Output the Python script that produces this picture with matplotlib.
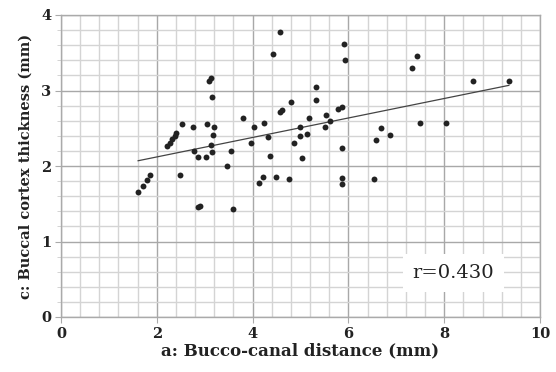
import matplotlib
matplotlib.use("Agg")
import matplotlib.pyplot as plt
import numpy as np

# Data
x_vals = [1.61, 1.71, 1.79, 1.86, 2.22, 2.28, 2.32, 2.37, 2.41, 2.48,
          2.52, 2.75, 2.78, 2.86, 2.85, 2.91, 3.03, 3.05, 3.10, 3.13,
          3.15, 3.14, 3.16, 3.17, 3.19, 3.47, 3.54, 3.59, 3.79, 3.97,
          4.02, 4.13, 4.21, 4.23, 4.32, 4.36, 4.42, 4.48, 4.57, 4.57,
          4.62, 4.75, 4.81, 4.86, 4.99, 4.98, 5.03, 5.14, 5.18, 5.33,
          5.33, 5.51, 5.54, 5.62, 5.79, 5.87, 5.86, 5.86, 5.86, 5.91,
          5.92, 6.54, 6.58, 6.68, 6.87, 7.33, 7.44, 7.49, 8.04, 8.60,
          9.35]
y_vals = [1.65, 1.74, 1.82, 1.88, 2.26, 2.31, 2.36, 2.40, 2.44, 1.88,
          2.56, 2.52, 2.20, 2.12, 1.46, 1.47, 2.12, 2.55, 3.12, 3.16,
          2.91, 2.28, 2.19, 2.41, 2.52, 2.00, 2.20, 1.43, 2.63, 2.30,
          2.51, 1.77, 1.85, 2.57, 2.38, 2.13, 3.48, 1.86, 3.77, 2.71,
          2.74, 1.83, 2.85, 2.30, 2.40, 2.52, 2.10, 2.42, 2.63, 3.04,
          2.88, 2.51, 2.68, 2.60, 2.75, 2.78, 2.24, 1.84, 1.76, 3.62,
          3.41, 1.83, 2.34, 2.50, 2.41, 3.30, 3.46, 2.57, 2.57, 3.12,
          3.13]
fit_slope = 0.129
fit_intercept = 1.862
r_text = "r=0.430"
x_label = "a: Bucco-canal distance (mm)"
y_label = "c: Buccal cortex thickness (mm)"
x_ticks = [0, 2, 4, 6, 8, 10]
y_ticks = [0, 1, 2, 3, 4]

plt.rcParams['font.family'] = ['DejaVu Serif']

fig = plt.figure(figsize=(5.56, 3.72), dpi=100)
ax = fig.add_axes([61/556, 55/372, (540-61)/556, (317-15)/372])

ax.set_xlim(0, 10)
ax.set_ylim(0, 4)
ax.set_xticks(x_ticks)
ax.set_yticks(y_ticks)
ax.set_xticks(np.arange(0, 10.01, 0.4), minor=True)
ax.set_yticks(np.arange(0, 4.01, 0.2), minor=True)
ax.grid(True, which='minor', color='#d4d4d4', linewidth=1.0)
ax.grid(True, which='major', color='#a8a8a8', linewidth=1.0)
ax.set_axisbelow(True)
for s in ax.spines.values():
    s.set_color('#aaaaaa')
    s.set_linewidth(1.0)
ax.tick_params(which='major', length=4, color='#aaaaaa', labelsize=10.5, pad=3)
ax.tick_params(which='minor', length=3, color='#cccccc')
ax.tick_params(axis='x', which='minor', length=0)
for lab in ax.get_xticklabels() + ax.get_yticklabels():
    lab.set_fontweight('bold')
    lab.set_color('#222222')

ax.scatter(x_vals, y_vals, s=18, color='#222222', zorder=3, linewidths=0)

xs = np.array([min(x_vals), max(x_vals)])
ax.plot(xs, fit_intercept + fit_slope * xs, color='#444444', linewidth=0.9, zorder=2)

ax.text(8.19, 0.58, r_text, fontsize=14, ha='center', va='center', color='#222222',
        bbox=dict(facecolor='white', edgecolor='none', pad=7), zorder=4)

ax.set_xlabel(x_label, fontsize=12, fontweight='bold', color='#222222', labelpad=1)
ax.set_ylabel(y_label, fontsize=10.5, fontweight='bold', color='#222222', labelpad=6)

fig.savefig("out.png", dpi=100)
